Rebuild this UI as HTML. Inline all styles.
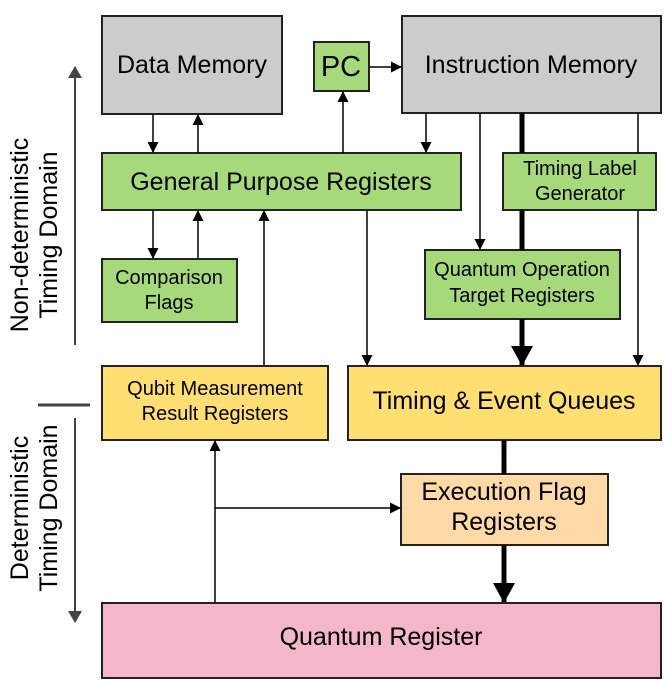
<!DOCTYPE html>
<html><head><meta charset="utf-8"><style>body{margin:0;background:#fff}svg{display:block;font-family:"Liberation Sans",sans-serif}</style></head><body>
<svg width="664" height="681" viewBox="0 0 664 681" xmlns="http://www.w3.org/2000/svg">
<defs>
<marker id="a" markerWidth="11" markerHeight="11" refX="10" refY="5.5" orient="auto" markerUnits="userSpaceOnUse"><path d="M0,0 L11,5.5 L0,11z" fill="#000"/></marker>
<marker id="b" markerWidth="20" markerHeight="22" refX="19" refY="11" orient="auto" markerUnits="userSpaceOnUse"><path d="M0,0 L20,11 L0,22z" fill="#000"/></marker>
<marker id="g" markerWidth="12" markerHeight="14" refX="11" refY="7" orient="auto" markerUnits="userSpaceOnUse"><path d="M0,0 L12,7 L0,14z" fill="#444"/></marker>
</defs>
<g stroke="#222" stroke-width="2">
<rect x="102" y="16" width="180" height="98" fill="#cccccc"/>
<rect x="314" y="42" width="55" height="49" fill="#a6d97a"/>
<rect x="402" y="16" width="259" height="97" fill="#cccccc"/>
<rect x="102" y="153" width="359" height="57" fill="#a6d97a"/>
<rect x="503" y="153" width="153" height="57" fill="#a6d97a"/>
<rect x="102" y="259" width="135" height="63" fill="#a6d97a"/>
<rect x="425" y="250" width="195" height="69" fill="#a6d97a"/>
<rect x="102" y="366" width="226" height="74" fill="#ffdf71"/>
<rect x="348" y="366" width="313" height="74" fill="#ffdf71"/>
<rect x="401" y="474" width="207" height="71" fill="#ffd9a6"/>
<rect x="102" y="603" width="559" height="75" fill="#f4b6c9"/>
</g>
<g stroke="#000" stroke-width="1.5" fill="none">
<line x1="153" y1="114" x2="153" y2="152" marker-end="url(#a)"/>
<line x1="198" y1="153" x2="198" y2="115" marker-end="url(#a)"/>
<line x1="343" y1="153" x2="343" y2="92" marker-end="url(#a)"/>
<line x1="369" y1="67" x2="401" y2="67" marker-end="url(#a)"/>
<line x1="426" y1="113" x2="426" y2="152" marker-end="url(#a)"/>
<line x1="480" y1="113" x2="480" y2="249" marker-end="url(#a)"/>
<line x1="638" y1="113" x2="638" y2="153"/>
<line x1="638" y1="210" x2="638" y2="365" marker-end="url(#a)"/>
<line x1="153" y1="210" x2="153" y2="258" marker-end="url(#a)"/>
<line x1="198" y1="259" x2="198" y2="211" marker-end="url(#a)"/>
<line x1="367" y1="210" x2="367" y2="365" marker-end="url(#a)"/>
<line x1="264" y1="366" x2="264" y2="211" marker-end="url(#a)"/>
<line x1="215" y1="603" x2="215" y2="441" marker-end="url(#a)"/>
<line x1="215" y1="508" x2="400" y2="508" marker-end="url(#a)"/>
</g>
<g stroke="#000" stroke-width="5" fill="none">
<line x1="522" y1="113" x2="522" y2="153"/>
<line x1="522" y1="210" x2="522" y2="250"/>
<line x1="522" y1="319" x2="522" y2="365" marker-end="url(#b)"/>
<line x1="504" y1="440" x2="504" y2="474"/>
<line x1="504" y1="545" x2="504" y2="602" marker-end="url(#b)"/>
</g>
<g stroke="#444" stroke-width="2" fill="none">
<line x1="75" y1="345" x2="75" y2="67" marker-end="url(#g)"/>
<line x1="38" y1="405" x2="90" y2="405" stroke-width="3"/>
<line x1="75" y1="418" x2="75" y2="622" marker-end="url(#g)"/>
</g>
<g font-size="25" text-anchor="middle" fill="#000">
<text x="192" y="73">Data Memory</text>
<text x="341" y="76" font-size="29">PC</text>
<text x="531" y="73">Instruction Memory</text>
<text x="281" y="190">General Purpose Registers</text>
<text x="580" y="175" font-size="20">Timing Label</text>
<text x="580" y="200" font-size="20">Generator</text>
<text x="169" y="284" font-size="20">Comparison</text>
<text x="169" y="309" font-size="20">Flags</text>
<text x="522" y="276" font-size="20">Quantum Operation</text>
<text x="522" y="302" font-size="20">Target Registers</text>
<text x="215" y="395" font-size="20">Qubit Measurement</text>
<text x="215" y="420" font-size="20">Result Registers</text>
<text x="504" y="409">Timing &amp; Event Queues</text>
<text x="504" y="500">Execution Flag</text>
<text x="504" y="530">Registers</text>
<text x="381" y="645">Quantum Register</text>
<text transform="translate(28,235) rotate(-90)">Non-deterministic</text>
<text transform="translate(57,235) rotate(-90)">Timing Domain</text>
<text transform="translate(28,508) rotate(-90)">Deterministic</text>
<text transform="translate(57,508) rotate(-90)">Timing Domain</text>
</g>
</svg>
</body></html>
